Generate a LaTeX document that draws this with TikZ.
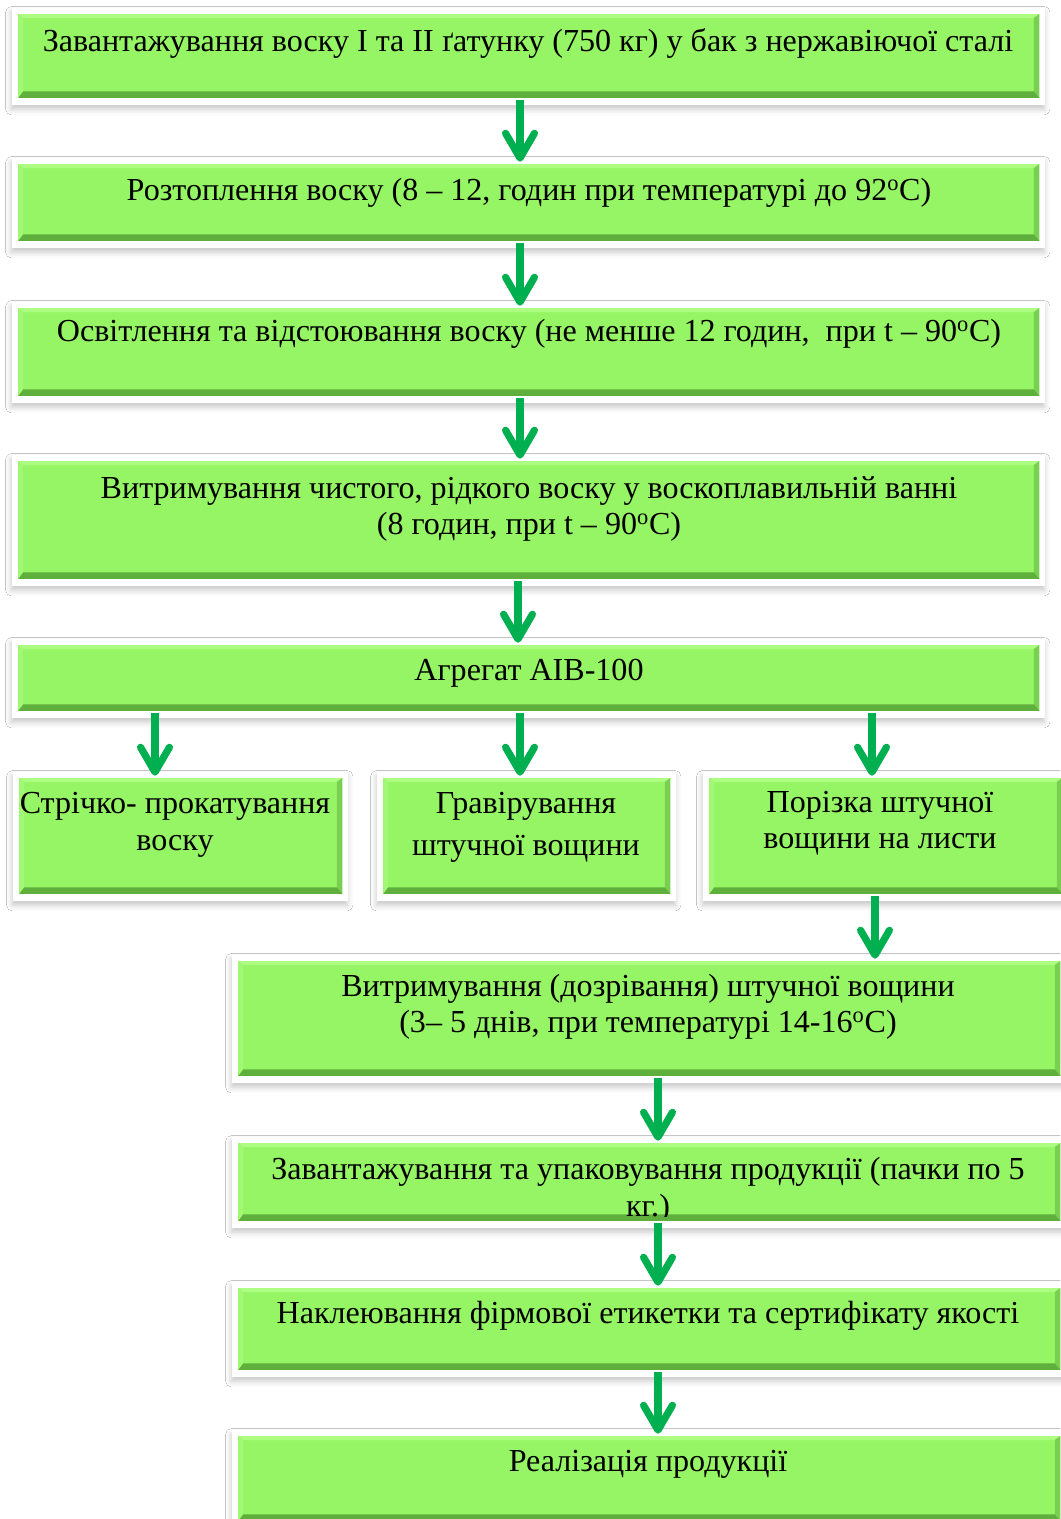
\documentclass[tikz,border=0pt]{standalone}
\usepackage{fontspec}
\setmainfont{Liberation Serif}
\usepackage{xcolor}
\usepackage{tikz}
\usetikzlibrary{arrows.meta,calc,fit,shadows.blur}

\definecolor{boxgreen}{HTML}{96F564}
\definecolor{bevtop}{HTML}{ACFD82}
\definecolor{bevleft}{HTML}{A2F874}
\definecolor{bevright}{HTML}{78CF50}
\definecolor{bevbottom}{HTML}{5FAF3D}
\definecolor{arrowgreen}{HTML}{00B050}

\begin{document}
\begin{tikzpicture}[x=0.025cm,y=-0.025cm]
    \tikzset{
        box/.style={rectangle, fill=white, inner sep=0pt,
            blur shadow={shadow xshift=-0.5pt, shadow yshift=-3pt, shadow blur radius=4pt, shadow opacity=22},
            path picture={
                \coordinate (gsw) at ($(path picture bounding box.south west)+(0.16cm,0.18cm)$);
                \coordinate (gne) at ($(path picture bounding box.north east)+(-0.14cm,-0.15cm)$);
                \coordinate (gnw) at (gsw |- gne);
                \coordinate (gse) at (gne |- gsw);
                \fill[boxgreen] (gsw) rectangle (gne);
                \fill[bevtop] (gnw) -- (gne) -- ($(gne)+(-0.14cm,-0.1cm)$) -- ($(gnw)+(0.12cm,-0.1cm)$) -- cycle;
                \fill[bevleft] (gsw) -- (gnw) -- ($(gnw)+(0.12cm,-0.1cm)$) -- ($(gsw)+(0.12cm,0.16cm)$) -- cycle;
                \fill[bevright] (gse) -- (gne) -- ($(gne)+(-0.14cm,-0.1cm)$) -- ($(gse)+(-0.14cm,0.16cm)$) -- cycle;
                \fill[bevbottom] (gsw) -- (gse) -- ($(gse)+(-0.14cm,0.16cm)$) -- ($(gsw)+(0.12cm,0.16cm)$) -- cycle;
            }},
        lbl/.style={align=center, inner sep=0pt, font=\fontsize{22.8}{26}\selectfont},
        arr/.style={draw=arrowgreen, line width=0.18cm, shorten <=-0.12cm, shorten >=-0.1cm,
            -{Straight Barb[length=0.62cm,width=0.72cm,round]}},
    }
    \useasboundingbox[fill=white] (0,0) rectangle (1060,1519);

    \node[box, fit={(12,8) (1045,105)}] (b1) {};
    \node[box, fit={(12,158) (1045,248)}] (b2) {};
    \node[box, fit={(12,302) (1045,403)}] (b3) {};
    \node[box, fit={(12,455) (1045,586)}] (b4) {};
    \node[box, fit={(12,639) (1045,718)}] (b5) {};
    \node[box, fit={(13,772) (348,901)}] (b6a) {};
    \node[box, fit={(377,772) (676,901)}] (b6b) {};
    \node[box, fit={(703,772) (1068,901)}] (b6c) {};
    \node[box, fit={(232,955) (1066,1083)}] (b7) {};
    \node[box, fit={(232,1137) (1066,1228)}] (b8) {};
    \node[box, fit={(232,1282) (1066,1377)}] (b9) {};
    \node[box, fit={(232,1430) (1066,1528)}] (b10) {};

    \node[lbl] (t1) at (528,43) {Завантажування воску I та II ґатунку (750 кг) у бак з нержавіючої сталі};
    \node[lbl] (t2) at (529,193) {Розтоплення воску (8 – 12, годин при температурі до 92\textsuperscript{o}C)};
    \node[lbl] (t3) at (529,334) {Освітлення та відстоювання воску (не менше 12 годин,\ \ при t – 90\textsuperscript{o}C)};
    \node[lbl] (t4) at (529,509) {Витримування чистого, рідкого воску у воскоплавильній ванні\\(8 годин, при t – 90\textsuperscript{o}C)};
    \node[lbl] (t5) at (529,673) {Агрегат АІВ-100};
    \node[lbl] (t6a) at (175,825) {Стрічко- прокатування\\воску};
    \node[lbl] (t6b) at (526,827) {Гравірування\\[4pt]штучної вощини};
    \node[lbl] (t6c) at (880,823) {Порізка штучної\\вощини на листи};
    \node[lbl] (t7) at (648,1007) {Витримування (дозрівання) штучної вощини\\(3– 5 днів, при температурі 14-16\textsuperscript{o}C)};
    \begin{scope}
        \clip ($(b8.south west)+(0.16cm,0.3cm)$) rectangle ($(b8.north east)+(-0.14cm,-0.15cm)$);
        \node[lbl] (t8) at (648,1190) {Завантажування та упаковування продукції (пачки по 5\\кг.)};
    \end{scope}
    \node[lbl] (t9) at (648,1316) {Наклеювання фірмової етикетки та сертифікату якості};
    \node[lbl] (t10) at (648,1464) {Реалізація продукції};

    \coordinate (c1) at (520,0);
    \coordinate (c2) at (518,0);
    \coordinate (c3) at (155,0);
    \coordinate (c4) at (872,0);
    \coordinate (c5) at (875,0);
    \coordinate (c6) at (658,0);

    \draw[arr] (b1.south -| c1) -- (b2.north -| c1);
    \draw[arr] (b2.south -| c1) -- (b3.north -| c1);
    \draw[arr] (b3.south -| c1) -- (b4.north -| c1);
    \draw[arr] (b4.south -| c2) -- (b5.north -| c2);
    \draw[arr] (b5.south -| c3) -- (b6a.north -| c3);
    \draw[arr] (b5.south -| c1) -- (b6b.north -| c1);
    \draw[arr] (b5.south -| c4) -- (b6c.north -| c4);
    \draw[arr] (b6c.south -| c5) -- (b7.north -| c5);
    \draw[arr] (b7.south -| c6) -- (b8.north -| c6);
    \draw[arr] (b8.south -| c6) -- (b9.north -| c6);
    \draw[arr] (b9.south -| c6) -- (b10.north -| c6);
\end{tikzpicture}
\end{document}
